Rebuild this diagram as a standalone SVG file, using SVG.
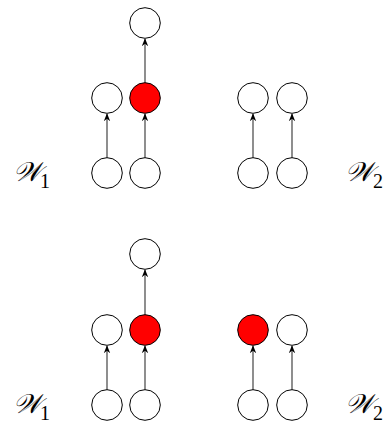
<svg xmlns="http://www.w3.org/2000/svg" width="384" height="423" viewBox="0 0 384 423">
<defs>
<style>
.n{fill:#fff;stroke:#000;stroke-width:1}
.r{fill:#f00;stroke:#000;stroke-width:1}
.e{stroke:#444;stroke-width:1.2;fill:none;marker-end:url(#ah)}
.lab{font-family:"DejaVu Serif","Liberation Serif",serif;font-style:italic;font-size:27px}
.sub{font-family:"Liberation Serif",serif;font-style:normal;font-size:20px}
</style>
<marker id="ah" viewBox="0 0 10 10" refX="9" refY="5" markerWidth="8" markerHeight="8" orient="auto" markerUnits="userSpaceOnUse">
<path d="M0,1 L10,5 L0,9 L3,5 Z" fill="#000"/>
</marker>
</defs>
<g id="connectors">
<line class="e" x1="107" y1="158" x2="107" y2="114"/>
<line class="e" x1="145" y1="158" x2="145" y2="114"/>
<line class="e" x1="145" y1="83" x2="145" y2="39"/>
<line class="e" x1="253" y1="158" x2="253" y2="114"/>
<line class="e" x1="292" y1="158" x2="292" y2="114"/>
<line class="e" x1="107" y1="390" x2="107" y2="346"/>
<line class="e" x1="145" y1="390" x2="145" y2="346"/>
<line class="e" x1="145" y1="315" x2="145" y2="270"/>
<line class="e" x1="253" y1="390" x2="253" y2="346"/>
<line class="e" x1="292" y1="390" x2="292" y2="346"/>
</g>
<g id="top-out"><circle class="n" cx="145" cy="23" r="15.3"/></g>
<g id="top-h1"><circle class="n" cx="107" cy="98" r="15.3"/></g>
<g id="top-h2"><circle class="r" cx="145" cy="98" r="15.3"/></g>
<g id="top-x1"><circle class="n" cx="107" cy="173" r="15.3"/></g>
<g id="top-x2"><circle class="n" cx="145" cy="173" r="15.3"/></g>
<g id="top-h3"><circle class="n" cx="253" cy="98" r="15.3"/></g>
<g id="top-h4"><circle class="n" cx="292" cy="98" r="15.3"/></g>
<g id="top-x3"><circle class="n" cx="253" cy="173" r="15.3"/></g>
<g id="top-x4"><circle class="n" cx="292" cy="173" r="15.3"/></g>
<g id="top-W1"><text class="lab" x="13" y="181">𝒲<tspan class="sub" x="40" y="188">1</tspan></text></g>
<g id="top-W2"><text class="lab" x="345" y="181">𝒲<tspan class="sub" x="373" y="188">2</tspan></text></g>
<g id="bot-out"><circle class="n" cx="145" cy="254" r="15.3"/></g>
<g id="bot-h1"><circle class="n" cx="107" cy="330" r="15.3"/></g>
<g id="bot-h2"><circle class="r" cx="145" cy="330" r="15.3"/></g>
<g id="bot-x1"><circle class="n" cx="107" cy="405" r="15.3"/></g>
<g id="bot-x2"><circle class="n" cx="145" cy="405" r="15.3"/></g>
<g id="bot-h3"><circle class="r" cx="253" cy="330" r="15.3"/></g>
<g id="bot-h4"><circle class="n" cx="292" cy="330" r="15.3"/></g>
<g id="bot-x3"><circle class="n" cx="253" cy="405" r="15.3"/></g>
<g id="bot-x4"><circle class="n" cx="292" cy="405" r="15.3"/></g>
<g id="bot-W1"><text class="lab" x="13" y="413">𝒲<tspan class="sub" x="40" y="420">1</tspan></text></g>
<g id="bot-W2"><text class="lab" x="345" y="413">𝒲<tspan class="sub" x="373" y="420">2</tspan></text></g>
</svg>
